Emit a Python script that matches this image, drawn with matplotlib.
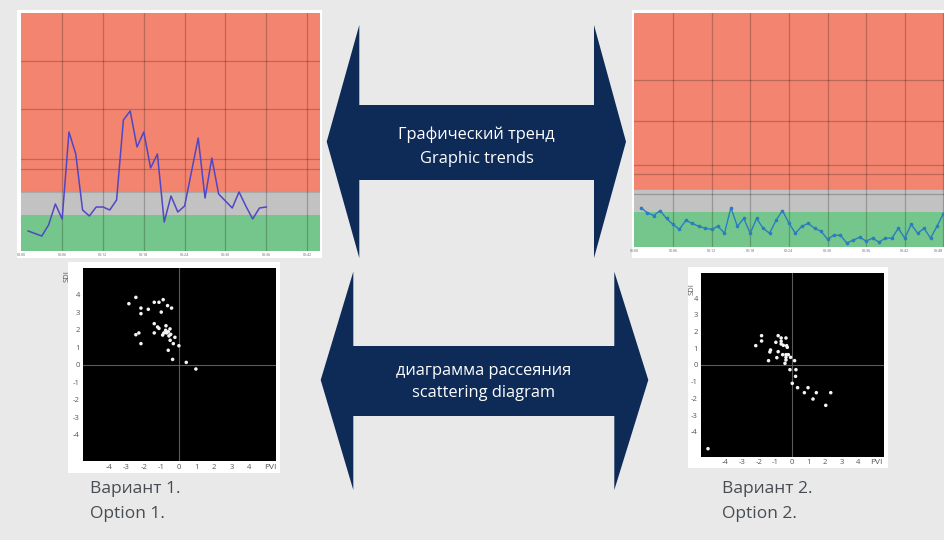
import numpy as np
import matplotlib
matplotlib.use("Agg")
import matplotlib.pyplot as plt
from matplotlib.patches import Polygon, Rectangle

plt.rcParams['font.family'] = ['Open Sans', 'DejaVu Sans']
plt.rcParams['axes.unicode_minus'] = False

# ---------------- data ----------------
trend1 = [2.0, 1.75, 1.5, 2.6, 4.7, 3.2, 11.9, 9.7, 4.1, 3.5, 4.4, 4.4,
          4.1, 5.1, 13.1, 14.0, 10.4, 11.9, 8.3, 9.7, 2.9, 5.5, 3.9, 4.5,
          7.9, 11.3, 5.3, 9.3, 5.7, 5.0, 4.3, 5.9, 4.5, 3.2, 4.3, 4.4]
trend2 = [4.0, 3.5, 3.2, 3.7, 2.9, 2.3, 1.8, 2.7, 2.4, 2.1, 1.9, 1.8,
          2.1, 1.4, 4.0, 2.1, 2.9, 1.4, 2.9, 1.9, 1.4, 2.7, 3.7, 2.45,
          1.4, 2.1, 2.4, 1.9, 1.6, 0.8, 1.2, 1.2, 0.4, 0.7, 1.0, 0.6,
          0.9, 0.5, 0.9, 0.9, 1.9, 0.9, 2.3, 1.4, 1.9, 0.9, 2.1, 3.4]
time_labels = ["00:00", "00:06", "00:12", "00:18", "00:24", "00:30",
               "00:36", "00:42", "00:48"]

sc1_x = [-2.46, -2.86, -2.17, -2.17, -1.75, -1.41, -1.14, -0.90, -0.65,
         -0.42, -1.01, -1.41, -1.22, -1.14, -0.74, -0.51, -0.76, -0.61,
         -0.70, -0.86, -0.93, -0.47, -0.57, -0.23, -0.50, -0.32, 0.00,
         -0.61, -0.36, 0.42, 0.97, -2.46, -2.29, -2.17, -1.41]
sc1_y = [3.84, 3.48, 3.23, 2.91, 3.16, 3.56, 3.56, 3.71, 3.37,
         3.23, 3.00, 2.34, 2.15, 2.07, 2.22, 2.04, 1.96, 1.88,
         1.81, 1.81, 1.69, 1.73, 1.64, 1.56, 1.39, 1.20, 1.08,
         0.82, 0.30, 0.13, -0.25, 1.71, 1.81, 1.20, 1.81]

sc2_x = [-1.83, -1.83, -2.18, -0.83, -0.65, -0.36, -0.97, -0.65, -0.65,
         -0.52, -0.32, -0.28, -1.29, -1.33, -0.83, -0.56, -0.36, -0.22,
         -0.36, -0.08, -0.91, -1.41, -0.36, 0.16, -0.42, -0.12, 0.24,
         0.22, 0.02, 0.34, 0.97, 0.75, 1.47, 2.34, 1.27, 2.04, -5.06]
sc2_y = [1.76, 1.44, 1.16, 1.76, 1.62, 1.62, 1.36, 1.42, 1.26,
         1.18, 1.16, 1.06, 0.90, 0.78, 0.80, 0.62, 0.62, 0.62,
         0.46, 0.46, 0.44, 0.26, 0.30, 0.26, 0.10, -0.28, -0.28,
         -0.68, -1.10, -1.36, -1.36, -1.66, -1.66, -1.66, -2.04, -2.42, -5.02]
scatter_ticks = [-4, -3, -2, -1, 0, 1, 2, 3, 4]

# ---------------- figure ----------------
W, H = 944, 540
fig = plt.figure(figsize=(W / 100, H / 100), dpi=100)
fig.patch.set_facecolor('#e9e9e9')


def rect(x0, y0, x1, y1):
    return [x0 / W, 1 - y1 / H, (x1 - x0) / W, (y1 - y0) / H]


bg = fig.add_axes([0, 0, 1, 1], zorder=-5)
bg.set_xlim(0, W)
bg.set_ylim(H, 0)
bg.axis('off')

# white panels behind charts
for (x0, y0, x1, y1) in [(17, 10, 322, 258), (632, 10, 946, 258),
                         (68, 262, 280, 473), (688, 267, 888, 468)]:
    bg.add_patch(Rectangle((x0, y0), x1 - x0, y1 - y0, facecolor='white',
                           edgecolor='none'))

RED, GRAY, GREEN = '#f38470', '#c2c2c2', '#74c68c'


def trend(ax, vals, xmax, color, markers, hlines):
    x = np.arange(len(vals))
    ax.axhspan(5.9, 30, color=RED, lw=0, zorder=0)
    ax.axhspan(3.6, 5.9, color=GRAY, lw=0, zorder=0)
    ax.axhspan(0, 3.6, color=GREEN, lw=0, zorder=0)
    ax.set_ylim(0, 23.8)
    ax.set_xlim(-1.05, xmax)
    grid = np.arange(-1, xmax + 1, 6)
    for g in grid[1:]:
        ax.axvline(g, color='black', alpha=0.22, lw=0.9, zorder=1)
    for h in hlines:
        ax.axhline(h, color='black', alpha=0.22, lw=0.9, zorder=1)
    ax.axhline(5.9, color='black', alpha=0.12, lw=0.8, zorder=1)
    if markers:
        ax.plot(x, vals, color=color, lw=1.0, marker='o', ms=1.6, zorder=2)
    else:
        ax.plot(x, vals, color=color, lw=1.1, zorder=2)
    ax.set_xticks(grid)
    labels = ax.set_xticklabels(time_labels[:len(grid)], fontsize=2.6,
                                color='#666666')
    if grid[-1] > xmax - 0.8:
        labels[-1].set_horizontalalignment('right')
    ax.tick_params(axis='x', length=0, pad=1.5)
    ax.set_yticks([])
    for s in ax.spines.values():
        s.set_visible(False)


ax1 = fig.add_axes(rect(21, 13, 320, 251))
trend(ax1, trend1, 42.9, '#5047c4', False, [19.0, 14.2, 9.2, 8.2])

ax2 = fig.add_axes(rect(634, 13, 946, 247))
trend(ax2, trend2, 47.4, '#2c7dc0', True, [17.0, 12.8, 8.3, 7.4, 5.4])


def scat(ax, xs, ys):
    ax.set_facecolor('black')
    ax.scatter(xs, ys, s=6.5, color='#f4f4f4', edgecolors='none', zorder=3)
    ax.axhline(0, color='#5a5a5a', lw=0.8, zorder=1)
    ax.axvline(0, color='#5a5a5a', lw=0.8, zorder=1)
    ax.set_xlim(-5.5, 5.55)
    ax.set_ylim(-5.5, 5.5)
    ax.set_xticks(scatter_ticks)
    ax.set_yticks(scatter_ticks)
    ax.tick_params(length=0, labelsize=5.5, colors='#555555', pad=2)
    for s in ax.spines.values():
        s.set_visible(False)


ax3 = fig.add_axes(rect(82.7, 268.3, 276, 461))
scat(ax3, sc1_x, sc1_y)
ax4 = fig.add_axes(rect(700.7, 273.3, 884, 456.7))
scat(ax4, sc2_x, sc2_y)

# axis names of scatter plots
bg.text(67.5, 276, 'SDI', rotation=90, fontsize=5.5, color='#555555',
        ha='center', va='center')
bg.text(270, 467.5, 'PVI', fontsize=6, color='#555555', ha='center', va='center')
bg.text(692, 289, 'SDI', rotation=90, fontsize=5.5, color='#555555',
        ha='center', va='center')
bg.text(876, 462, 'PVI', fontsize=6, color='#555555', ha='center', va='center')

# double-headed arrows
NAVY = '#0e2a57'
top_arrow = [(326.7, 141.7), (359.3, 25), (359.3, 105), (594, 105), (594, 25),
             (626, 141.7), (594, 258), (594, 180), (359.3, 180), (359.3, 258)]
bot_arrow = [(320.7, 380), (353.3, 271.7), (353.3, 346), (614.3, 346),
             (614.3, 271.7), (648.3, 380), (614.3, 490), (614.3, 416),
             (353.3, 416), (353.3, 490)]
for poly in (top_arrow, bot_arrow):
    bg.add_patch(Polygon(poly, closed=True, facecolor=NAVY, edgecolor='none'))

bg.text(476.7, 135, 'Графический тренд', fontsize=11.8, color='white',
        ha='center', va='center')
bg.text(476.7, 159, 'Graphic trends', fontsize=11.8, color='white',
        ha='center', va='center')
bg.text(483.3, 371, 'диаграмма рассеяния', fontsize=11.8, color='white',
        ha='center', va='center')
bg.text(483.3, 393, 'scattering diagram', fontsize=11.8, color='white',
        ha='center', va='center')

# captions
CAP = '#474c52'
bg.text(90, 489, 'Вариант 1.', fontsize=12.5, color=CAP, ha='left', va='center')
bg.text(90, 514, 'Option 1.', fontsize=12.5, color=CAP, ha='left', va='center')
bg.text(722, 489, 'Вариант 2.', fontsize=12.5, color=CAP, ha='left', va='center')
bg.text(722, 514, 'Option 2.', fontsize=12.5, color=CAP, ha='left', va='center')

fig.savefig('out.png', dpi=100, facecolor=fig.get_facecolor())
